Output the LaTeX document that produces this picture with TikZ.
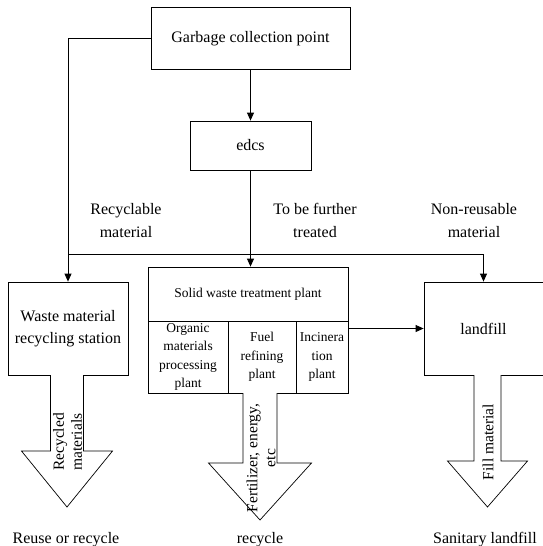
\documentclass[tikz,border=0pt]{standalone}
\usepackage{fontspec}
\setmainfont{Liberation Serif}
\usepackage{tikz}
\usetikzlibrary{arrows.meta, calc}

\tikzset{
    box/.style={draw, line width=0.8pt, inner sep=0pt, align=center},
    big/.style={font=\fontsize{16}{22.5}\selectfont, align=center, inner sep=0pt},
    small/.style={font=\fontsize{13.5}{18.5}\selectfont, align=center, inner sep=0pt},
    rot/.style={font=\fontsize{15.5}{18}\selectfont, align=center, inner sep=0pt, rotate=90},
    arr/.style={line width=0.8pt, -{Triangle[length=8pt, width=7pt]}}
}

\begin{document}
\begin{tikzpicture}[x=1pt, y=-1pt]
            \useasboundingbox (0,0) rectangle (543,546);

            \node[box, big, minimum width=199, minimum height=61.5] (garbage) at (250.5,38.3) {Garbage collection point};
            \node[box, big, minimum width=121, minimum height=49] (edcs) at (250.5,145.5) {edcs};
            \node[box, big, minimum width=120, minimum height=93] (waste) at (68,328.5) {Waste material\\recycling station};
            \node[box, small, minimum width=200, minimum height=54] (solid) at (248,294) {Solid waste treatment plant};
            \node[box, small, minimum width=80, minimum height=72] (organic) at (188,357) {Organic\\materials\\processing\\plant};
            \node[box, small, minimum width=68, minimum height=72] (fuel) at (262,357) {Fuel\\refining\\plant};
            \node[box, small, minimum width=52, minimum height=72] (incin) at (322,357) {Incinera\\tion\\plant};
            \node[box, big, minimum width=119, minimum height=93] (landfill) at (483.5,328.5) {landfill};
            \coordinate (split) at (250.5,254);

            \draw[arr] (garbage) -- (edcs);
            \draw[line width=0.8pt] (edcs.south) -- (split);
            \draw[arr] (split) -- (split |- solid.north);
            \draw[arr] (garbage.west) -| (waste.north);
            \draw[arr] (waste.north |- split) -| (landfill.north);
            \draw[arr] (landfill.west -| solid.east) -- (landfill.west);

            \node[big] (recyclable) at (126,220.5) {Recyclable\\material};
            \node[big] (further) at (315,220.5) {To be further\\treated};
            \node[big] (nonreuse) at (474,220.5) {Non-reusable\\material};

            % block arrows: centre / shaft half width / head half width / top / shoulder / tip
            \foreach \c/\w/\h/\t/\s/\p in {67/16.5/45.5/375/451/507, 260/17/51.5/393/463/520, 487.5/13.5/40/375/461/507} {
                \draw[line width=0.7pt, fill=white] (\c-\w,\t) -- (\c-\w,\s) -- (\c-\h,\s) -- (\c,\p)
                    -- (\c+\h,\s) -- (\c+\w,\s) -- (\c+\w,\t);
            }

            \node[rot] (recycled) at (67.5,442) {Recycled\\materials};
            \node[rot] (fert) at (261,458) {Fertilizer, energy,\\etc};
            \node[rot] (fill) at (488,442) {Fill material};

            \node[big, anchor=base] (reuse) at (66,543) {Reuse or recycle};
            \node[big, anchor=base] (recycle) at (260,543) {recycle};
            \node[big, anchor=base] (sanitary) at (485,543) {Sanitary landfill};
        \end{tikzpicture}
\end{document}
